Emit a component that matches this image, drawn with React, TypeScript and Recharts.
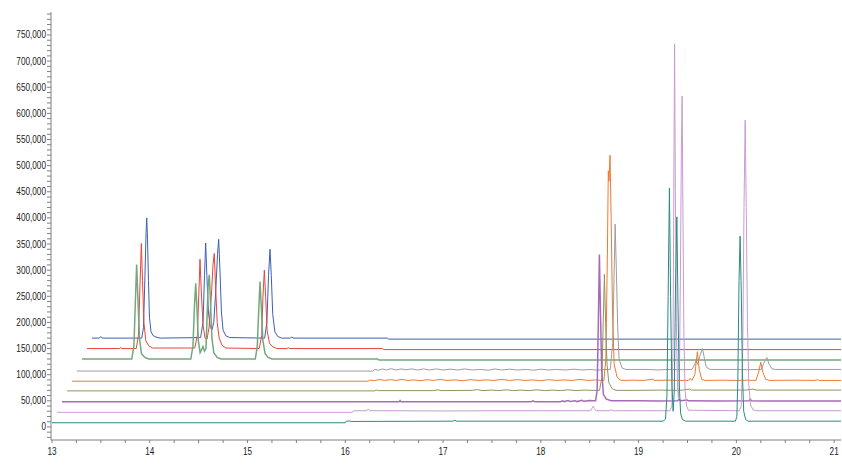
import { LineChart, Line, XAxis, YAxis } from "recharts";

// [time (min), signal in thousands]
const BLUE: [number, number][] = [
  [13.41, 170], [13.48, 170], [13.5, 172.5], [13.52, 170],
  [13.918, 170], [13.936, 190], [13.951, 290], [13.962, 370], [13.969, 400], [13.977, 360], [13.987, 280], [13.997, 210], [14.013, 182], [14.033, 175], [14.064, 172], [14.105, 170],
  [14.52, 171], [14.545, 200], [14.56, 290], [14.572, 352], [14.584, 290], [14.6, 220], [14.62, 190], [14.637, 186], [14.655, 200], [14.675, 260], [14.693, 330], [14.705, 359], [14.718, 300], [14.733, 220], [14.75, 185], [14.78, 174], [14.82, 171],
  [15.175, 170], [15.198, 200], [15.215, 290], [15.23, 340], [15.243, 290], [15.258, 215], [15.28, 182], [15.31, 173], [15.35, 170],
  [15.44, 170], [15.452, 172.5], [15.465, 170],
  [16.43, 170], [16.445, 168], [21.07, 168],
];

const RED: [number, number][] = [
  [13.358, 150], [13.69, 150], [13.703, 152], [13.716, 150],
  [13.862, 150], [13.884, 175], [13.9, 270], [13.914, 351], [13.926, 280], [13.94, 200], [13.96, 165], [13.99, 155], [14.03, 151],
  [14.46, 151], [14.487, 175], [14.503, 260], [14.514, 321], [14.527, 260], [14.545, 195], [14.565, 170], [14.586, 168], [14.606, 190], [14.63, 250], [14.647, 310], [14.66, 332], [14.673, 270], [14.69, 200], [14.71, 170], [14.74, 156], [14.78, 151],
  [15.12, 150], [15.145, 175], [15.158, 250], [15.172, 300], [15.185, 250], [15.2, 185], [15.225, 160], [15.26, 153], [15.3, 150],
  [15.405, 150], [15.417, 152], [15.43, 150],
  [16.38, 150], [16.395, 148], [21.07, 148],
];

const GREEN: [number, number][] = [
  [13.307, 130],
  [13.816, 130], [13.838, 155], [13.853, 240], [13.866, 311], [13.879, 245], [13.895, 170], [13.915, 140], [13.95, 133], [13.99, 130],
  [14.42, 130], [14.442, 155], [14.457, 230], [14.47, 275], [14.482, 230], [14.497, 165], [14.515, 142], [14.53, 148], [14.545, 154], [14.56, 145], [14.575, 150], [14.588, 220], [14.597, 270], [14.609, 291], [14.621, 240], [14.636, 170], [14.655, 142], [14.69, 133], [14.73, 130],
  [15.08, 130], [15.1, 155], [15.116, 230], [15.128, 278], [15.141, 230], [15.157, 165], [15.18, 140], [15.21, 133], [15.25, 130],
  [16.33, 130], [16.345, 128], [21.07, 128],
];

const GRAY: [number, number][] = [
  [13.256, 107], [16.28, 107], [16.3, 110], [16.34, 108.5], [16.38, 111], [16.42, 109], [16.47, 111.5], [16.52, 109], [16.57, 111], [16.62, 109.5], [16.68, 111], [16.74, 109], [16.8, 111], [16.86, 109], [16.93, 111], [17.0, 109], [17.07, 110.5], [17.15, 109], [17.22, 111], [17.3, 109], [17.38, 110], [17.46, 108.5], [17.53, 111], [17.6, 109], [17.68, 110.5], [17.76, 109], [17.85, 110], [17.93, 108.5], [18.0, 110.5], [18.08, 109], [18.16, 110], [18.25, 109], [18.34, 110.5], [18.42, 109], [18.5, 110], [18.58, 108.5], [18.65, 110],
  [18.71, 110], [18.735, 160], [18.75, 300], [18.76, 388], [18.771, 310], [18.786, 190], [18.8, 130], [18.83, 113], [18.87, 110],
  [19.1, 110], [19.2, 109], [19.3, 110], [19.42, 109.5],
  [19.545, 110], [19.57, 118], [19.588, 127], [19.605, 120], [19.625, 135], [19.653, 150], [19.672, 132], [19.69, 115], [19.73, 110],
  [20.0, 110], [20.1, 109.5],
  [20.255, 110], [20.285, 124], [20.311, 133], [20.335, 120], [20.365, 111], [20.4, 110],
  [20.7, 110], [21.07, 110],
];

const ORANGE: [number, number][] = [
  [13.205, 87.5], [16.23, 87.5], [16.25, 89.5], [16.3, 88.5], [16.35, 91], [16.4, 89], [16.46, 90.5], [16.52, 89], [16.58, 91], [16.64, 89], [16.7, 90], [16.77, 88.5], [16.84, 90.5], [16.9, 89], [16.97, 91], [17.04, 89], [17.12, 90], [17.2, 88.5], [17.28, 90.5], [17.36, 89], [17.44, 90], [17.52, 89], [17.6, 91], [17.68, 89], [17.76, 90.5], [17.84, 89], [17.92, 90], [18.0, 88.5], [18.08, 90.5], [18.16, 89], [18.24, 90], [18.32, 89], [18.4, 91], [18.48, 89], [18.56, 90], [18.62, 89],
  [18.645, 89], [18.665, 130], [18.68, 320], [18.69, 490], [18.697, 470], [18.708, 520], [18.719, 400], [18.733, 220], [18.75, 120], [18.78, 95], [18.82, 89],
  [18.95, 89.5], [19.05, 89], [19.148, 91.5], [19.16, 89], [19.3, 89.5], [19.42, 89],
  [19.51, 89], [19.527, 93], [19.545, 89], [19.575, 100], [19.601, 144], [19.62, 110], [19.645, 91], [19.68, 89],
  [19.85, 89.5], [20.0, 89], [20.1, 89.5],
  [20.2, 89], [20.228, 105], [20.25, 124], [20.27, 105], [20.3, 91], [20.34, 89],
  [20.6, 89.5], [20.8, 89], [20.83, 90.5], [20.85, 89], [21.07, 89],
];

const OLIVE: [number, number][] = [
  [13.153, 69], [16.3, 69], [16.32, 70.5], [16.34, 69.5], [16.9, 69.5], [16.95, 71], [16.98, 69.5], [17.3, 70], [17.35, 71.5], [17.4, 69.5], [17.5, 70.5], [17.56, 69.5], [17.65, 71], [17.72, 69.5], [17.8, 70.5], [17.88, 69.5], [17.96, 71], [18.04, 69.5], [18.12, 70.5], [18.2, 69.5], [18.28, 71], [18.36, 69.5], [18.44, 70.5], [18.52, 70],
  [18.6, 70], [18.625, 95], [18.638, 200], [18.65, 292], [18.662, 200], [18.677, 120], [18.695, 85], [18.73, 73], [18.77, 70],
  [19.0, 70], [19.2, 70.5], [19.4, 70], [19.45, 70.5], [19.52, 72.5], [19.54, 70.5], [19.8, 70.5], [20.1, 70.5], [20.17, 72.5], [20.2, 70.5], [21.07, 70.5],
];

const PURPLE: [number, number][] = [
  [13.102, 48], [16.55, 48], [16.56, 50.5], [16.57, 48],
  [17.9, 48], [17.92, 50], [17.94, 48], [18.2, 48], [18.22, 50], [18.24, 48.5], [18.28, 50.5], [18.3, 48.5], [18.35, 50], [18.37, 48.5], [18.42, 51], [18.44, 49], [18.5, 50.5], [18.54, 50],
  [18.56, 50], [18.576, 70], [18.588, 200], [18.599, 330], [18.61, 220], [18.622, 110], [18.64, 62], [18.67, 53], [18.72, 50],
  [19.0, 50], [19.2, 49.5], [19.4, 50], [19.414, 53], [19.43, 50], [19.496, 51.5], [19.51, 50], [19.8, 49.5], [20.13, 50], [20.141, 53], [20.155, 50], [20.5, 49.5], [21.07, 49.5],
];

const PINK: [number, number][] = [
  [13.051, 28], [16.07, 28], [16.09, 31], [16.22, 31], [16.236, 34.5], [16.25, 31], [16.5, 31], [17.0, 30.5], [17.5, 31], [18.0, 31],
  [18.51, 31], [18.53, 38], [18.538, 40], [18.548, 35], [18.565, 31], [18.7, 31], [18.72, 33], [18.74, 31],
  [19.32, 31], [19.34, 40], [19.352, 150], [19.36, 450], [19.368, 733], [19.376, 450], [19.386, 200], [19.398, 80], [19.407, 55], [19.417, 90], [19.428, 300], [19.437, 520], [19.445, 633], [19.453, 420], [19.463, 180], [19.475, 70], [19.49, 40], [19.51, 32],
  [20.03, 31], [20.05, 40], [20.065, 150], [20.078, 420], [20.09, 587], [20.101, 420], [20.113, 200], [20.127, 80], [20.145, 42], [20.17, 33], [20.2, 31], [21.07, 31],
];

const TEAL: [number, number][] = [
  [13.0, 8], [16.0, 8], [16.01, 11], [16.04, 11.5], [16.06, 10.5], [17.1, 11], [17.12, 13], [17.14, 11],
  [19.25, 11], [19.275, 15], [19.29, 60], [19.302, 250], [19.315, 457], [19.327, 250], [19.34, 80], [19.353, 30], [19.365, 70], [19.377, 260], [19.391, 402], [19.403, 230], [19.416, 80], [19.43, 25], [19.45, 14], [19.48, 11],
  [19.99, 11], [20.005, 20], [20.015, 90], [20.027, 280], [20.038, 365], [20.05, 260], [20.062, 100], [20.075, 30], [20.095, 14], [20.12, 11], [21.07, 11],
];

const X_LABELS = [13, 14, 15, 16, 17, 18, 19, 20, 21];
const Y_LABELS = [0, 50000, 100000, 150000, 200000, 250000, 300000, 350000, 400000, 450000, 500000, 550000, 600000, 650000, 700000, 750000];

const SERIES = [
  { name: "s1", color: "#3d5fb5", width: 1, points: BLUE },
  { name: "s2", color: "#e8453c", width: 1, points: RED },
  { name: "s3", color: "#72a97c", width: 1.5, points: GREEN },
  { name: "s4", color: "#9d9d9d", width: 1, points: GRAY },
  { name: "s5", color: "#f07a30", width: 1, points: ORANGE },
  { name: "s6", color: "#929260", width: 1, points: OLIVE },
  { name: "s7", color: "#a86ab8", width: 1.5, points: PURPLE },
  { name: "s8", color: "#c99bd1", width: 1, points: PINK },
  { name: "s9", color: "#2a8a86", width: 1, points: TEAL },
];

const xTicks: number[] = [];
for (let t = 13; t <= 21.001; t += 0.25) xTicks.push(Math.round(t * 100) / 100);
const yTicks: number[] = [];
for (let v = -20000; v <= 790000; v += 10000) yTicks.push(v);

const FONT = "'Liberation Sans Narrow', 'Arial Narrow', 'Liberation Sans', Arial, sans-serif";

const textWidth = (s: string) => {
  let w = 0;
  for (const c of s) w += c === "," ? 2.3 : 4.56;
  return w;
};

const YTick = (props: any) => {
  const { x, y, payload } = props;
  if (payload.value % 50000 !== 0 || !Y_LABELS.includes(payload.value)) return <g />;
  const s = payload.value.toLocaleString("en-US");
  return (
    <text x={x} y={y} dy={3.5} textAnchor="end" fontSize={10} fill="#222" fontFamily={FONT}
      textLength={textWidth(s)} lengthAdjust="spacingAndGlyphs">
      {s}
    </text>
  );
};

const XTick = (props: any) => {
  const { x, y, payload } = props;
  if (!X_LABELS.includes(payload.value)) return <g />;
  const s = String(payload.value);
  return (
    <text x={x} y={y} dy={10} textAnchor="middle" fontSize={10} fill="#222" fontFamily={FONT}
      textLength={textWidth(s)} lengthAdjust="spacingAndGlyphs">
      {s}
    </text>
  );
};

export default function App() {
  return (
    <div style={{ position: "absolute", left: 0, top: 0, width: 842, height: 465, background: "#fff" }}>
      <LineChart width={842} height={465} margin={{ top: 12, right: 1, bottom: 0, left: 0 }}>
        <XAxis
          type="number"
          dataKey="t"
          domain={[12.99, 21.07]}
          allowDataOverflow
          ticks={xTicks}
          interval={0}
          tick={XTick}
          tickSize={3}
          tickMargin={2}
          height={25}
          stroke="#808080"
        />
        <YAxis
          type="number"
          domain={[-25000, 794000]}
          allowDataOverflow
          ticks={yTicks}
          interval={0}
          tick={YTick}
          tickSize={4}
          tickMargin={1}
          width={51}
          stroke="#808080"
        />
        {SERIES.map((s) => (
          <Line
            key={s.name}
            name={s.name}
            data={s.points.map(([t, v]) => ({ t, v: v * 1000 }))}
            dataKey="v"
            type="linear"
            stroke={s.color}
            strokeWidth={s.width}
            dot={false}
            activeDot={false}
            isAnimationActive={false}
          />
        ))}
      </LineChart>
    </div>
  );
}
